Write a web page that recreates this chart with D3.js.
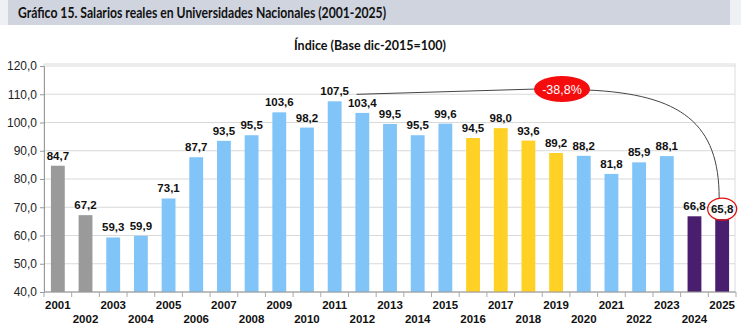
<!DOCTYPE html>
<html><head><meta charset="utf-8">
<script src="https://cdn.jsdelivr.net/npm/d3@7"></script>
<style>body{margin:0;background:#fff}svg{display:block}</style>
</head><body>
<svg id="c" width="741" height="329"></svg>
<script>
const years = ["2001","2002","2003","2004","2005","2006","2007","2008","2009","2010","2011","2012","2013","2014","2015","2016","2017","2018","2019","2020","2021","2022","2023","2024","2025"];
const values = [84.7,67.2,59.3,59.9,73.1,87.7,93.5,95.5,103.6,98.2,107.5,103.4,99.5,95.5,99.6,94.5,98.0,93.6,89.2,88.2,81.8,85.9,88.1,66.8,65.8];
const groups = ["g","g","b","b","b","b","b","b","b","b","b","b","b","b","b","y","y","y","y","b","b","b","b","p","p"];
const yTicks = [40,50,60,70,80,90,100,110,120];
const title = "Gráfico 15. Salarios reales en Universidades Nacionales (2001-2025)";
const subtitle = "Índice (Base dic-2015=100)";
const changeLabel = "-38,8%";

const colors = {g:"#9a9a9a", b:"#80c4f8", y:"#ffd124", p:"#4a1e6e"};
const svg = d3.select("#c");
const fmt = v => d3.format(".1f")(v).replace(".", ",");

// title bar
svg.append("rect").attr("x",0).attr("y",0).attr("width",741).attr("height",25).attr("fill","#eef0f3");
svg.append("rect").attr("x",8).attr("y",0).attr("width",722).attr("height",25).attr("fill","#cfd4df");
svg.append("text").attr("x",18).attr("y",18).attr("font-family","Lato, 'Open Sans', sans-serif")
  .attr("font-weight","bold").attr("font-size",15).attr("fill","#111")
  .attr("textLength",368).attr("lengthAdjust","spacingAndGlyphs").text(title);
svg.append("text").attr("x",370).attr("y",50).attr("text-anchor","middle")
  .attr("font-family","Lato, 'Open Sans', sans-serif").attr("font-weight","bold").attr("font-size",12.5)
  .attr("fill","#111").text(subtitle);

const L=44, R=736, T=66, B=292;
const x = d3.scaleBand().domain(years).range([L,R]).paddingInner(0.5).paddingOuter(0.25);
const y = d3.scaleLinear().domain([40,120]).range([B,T]);

// plot border
svg.append("rect").attr("x",L).attr("y",64).attr("width",735-L).attr("height",B-64)
  .attr("fill","none").attr("stroke","#dcdcdc");

// grid
svg.append("g").selectAll("line").data(yTicks).join("line")
  .attr("x1",L).attr("x2",735).attr("y1",d=>y(d)).attr("y2",d=>y(d))
  .attr("stroke","#d9d9d9").attr("stroke-width",1);

// y axis
const ya = svg.append("g").attr("transform",`translate(${L},0)`)
  .call(d3.axisLeft(y).tickValues(yTicks).tickFormat(fmt).tickSize(4).tickPadding(3));
ya.select(".domain").attr("stroke","#999");
ya.selectAll(".tick line").attr("stroke","#999");
ya.selectAll("text").attr("font-family","Liberation Sans, Arial, sans-serif").attr("font-size",12).attr("fill","#222");

// bars
svg.append("g").selectAll("rect").data(values).join("rect")
  .attr("x",(d,i)=>x(years[i])).attr("width",x.bandwidth())
  .attr("y",d=>y(d)).attr("height",d=>B-y(d))
  .attr("fill",(d,i)=>colors[groups[i]]);

// x axis
const step = x.step();
svg.append("line").attr("x1",L).attr("x2",R).attr("y1",B).attr("y2",B).attr("stroke","#999");
svg.append("g").selectAll("line").data(d3.range(years.length+1)).join("line")
  .attr("x1",i=>L+i*step).attr("x2",i=>L+i*step).attr("y1",B).attr("y2",B+5).attr("stroke","#aaa");
svg.append("g").selectAll("text").data(years).join("text")
  .attr("x",d=>x(d)+x.bandwidth()/2).attr("y",(d,i)=> i%2===0 ? 309 : 323)
  .attr("text-anchor","middle").attr("font-family","Liberation Sans, Arial, sans-serif")
  .attr("font-weight","bold").attr("font-size",11.5).attr("fill","#111").text(d=>d);

// value labels
svg.append("g").selectAll("text").data(values).join("text")
  .attr("x",(d,i)=>x(years[i])+x.bandwidth()/2).attr("y",d=>y(d)-6)
  .attr("text-anchor","middle").attr("font-family","Liberation Sans, Arial, sans-serif")
  .attr("font-weight","bold").attr("font-size",11.5).attr("fill","#111").text(d=>fmt(d));

// annotation
const iMax = values.indexOf(d3.max(values));
const iLast = values.length-1;
const xMax = x(years[iMax])+x.bandwidth()/2;
const xLast = x(years[iLast])+x.bandwidth()/2;
const ex = 562, ey = 89;
svg.append("path").attr("d",`M${xMax+22},${y(values[iMax])-7} L${ex-25},${ey}`)
  .attr("stroke","#444").attr("fill","none").attr("stroke-width",1);
const cy = y(values[iLast])-10;
svg.append("path").attr("d",`M${ex+25},${ey+1} C${xLast-40},${ey+5} ${xLast-3},${ey+35} ${xLast-3},${cy-11}`)
  .attr("stroke","#444").attr("fill","none").attr("stroke-width",1);
svg.append("ellipse").attr("cx",ex).attr("cy",ey).attr("rx",28).attr("ry",13).attr("fill","#f50d0d");
svg.append("text").attr("x",ex).attr("y",ey+4.5).attr("text-anchor","middle")
  .attr("font-family","Liberation Sans, Arial, sans-serif").attr("font-size",12.5).attr("fill","#fff").text(changeLabel);
svg.append("ellipse").attr("cx",xLast).attr("cy",cy).attr("rx",14.5).attr("ry",11)
  .attr("fill","none").attr("stroke","#e01010").attr("stroke-width",1.3);
</script>
</body></html>
